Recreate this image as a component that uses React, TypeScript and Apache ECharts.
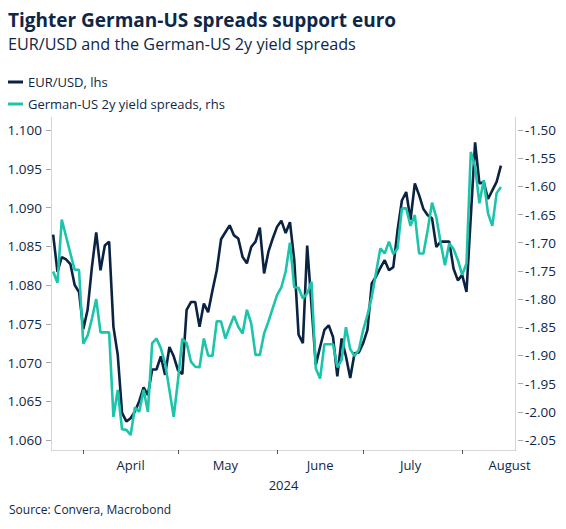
import React, { useEffect, useRef } from "react";
import * as echarts from "echarts";

// ---- data ----
const START_DATE = "2024-03-21";
const END_DATE = "2024-08-19"; // axis runs a few business days past the last observation

// EUR/USD, left axis (business days from 2024-03-21)
const eurUsd = [
  1.0865, 1.0817, 1.0836, 1.0833, 1.0827, 1.0800, 1.0791, 1.0743, 1.0768, 1.0823,
  1.0868, 1.0819, 1.0851, 1.0856, 1.0746, 1.0710, 1.0635, 1.0624, 1.0628, 1.0637,
  1.0650, 1.0668, 1.0658, 1.0691, 1.0691, 1.0708, 1.0684, 1.0720, 1.0708, 1.0690,
  1.0685, 1.0768, 1.0778, 1.0778, 1.0746, 1.0776, 1.0765, 1.0793, 1.0819, 1.0859,
  1.0868, 1.0877, 1.0864, 1.0860, 1.0836, 1.0828, 1.0849, 1.0856, 1.0874, 1.0815,
  1.0843, 1.0860, 1.0875, 1.0883, 1.0867, 1.0881, 1.0832, 1.0736, 1.0725, 1.0851,
  1.0774, 1.0697, 1.0720, 1.0742, 1.0748, 1.0733, 1.0682, 1.0731, 1.0708, 1.0680,
  1.0712, 1.0713, 1.0725, 1.0742, 1.0802, 1.0811, 1.0822, 1.0832, 1.0819, 1.0823,
  1.0871, 1.0909, 1.0920, 1.0884, 1.0931, 1.0916, 1.0898, 1.0890, 1.0886, 1.0849,
  1.0856, 1.0856, 1.0856, 1.0821, 1.0806, 1.0813, 1.0791, 1.0888, 1.0984, 1.0931,
  1.0933, 1.0911, 1.0922, 1.0933, 1.0954,
];

// German-US 2y yield spread, right axis
const spread = [
  -1.751, -1.771, -1.659, -1.689, -1.719, -1.748, -1.748, -1.879, -1.865, -1.835,
  -1.800, -1.859, -1.859, -1.859, -2.009, -1.961, -2.031, -2.032, -2.041, -1.992,
  -2.000, -1.961, -2.000, -1.878, -1.870, -1.887, -1.914, -1.961, -2.009, -1.944,
  -1.870, -1.878, -1.911, -1.920, -1.921, -1.870, -1.900, -1.901, -1.839, -1.840,
  -1.870, -1.849, -1.830, -1.849, -1.861, -1.819, -1.843, -1.899, -1.899, -1.861,
  -1.840, -1.816, -1.793, -1.779, -1.751, -1.700, -1.779, -1.780, -1.799, -1.790,
  -1.769, -1.923, -1.941, -1.880, -1.880, -1.880, -1.921, -1.908, -1.850, -1.889,
  -1.901, -1.890, -1.855, -1.828, -1.796, -1.753, -1.710, -1.719, -1.698, -1.720,
  -1.710, -1.639, -1.639, -1.670, -1.651, -1.719, -1.719, -1.677, -1.629, -1.655,
  -1.700, -1.740, -1.701, -1.711, -1.731, -1.757, -1.737, -1.539, -1.565, -1.630,
  -1.589, -1.648, -1.670, -1.612, -1.601,
];

const monthLabelDates: Record<string, string> = {
  "2024-04-16": "April",
  "2024-05-16": "May",
  "2024-06-17": "June",
  "2024-07-16": "July",
  "2024-08-16": "August",
};
const leftAxis = { min: 1.06, max: 1.1, interval: 0.005 };
const rightAxis = { min: -2.05, max: -1.5, interval: 0.05 };
const seriesNames = ["EUR/USD, lhs", "German-US 2y yield spreads, rhs"];
const yearLabel = "2024";
const titleText = "Tighter German-US spreads support euro";
const subtitleText = "EUR/USD and the German-US 2y yield spreads";
const sourceText = "Source: Convera, Macrobond";

// ---- styling ----
const NAVY = "#0b2343";
const TEAL = "#1cc4aa";
const TEXT = "#0f2746";
const FRAME = "#d6d6d6";
const TICK = "#a8a8a8";
const FONT = "'Open Sans', 'Noto Sans', sans-serif";

function businessDays(start: string, end: string): string[] {
  const out: string[] = [];
  const d = new Date(start + "T00:00:00Z");
  const e = new Date(end + "T00:00:00Z");
  while (d <= e) {
    const wd = d.getUTCDay();
    if (wd !== 0 && wd !== 6) out.push(d.toISOString().slice(0, 10));
    d.setUTCDate(d.getUTCDate() + 1);
  }
  return out;
}

const W = 566;
const H = 529;
const GRID = { left: 51, right: 50, top: 130, height: 310 };
const FRAME_TOP = 117;
const AXIS_Y = 450;

export default function App() {
  const ref = useRef<HTMLDivElement>(null);

  useEffect(() => {
    if (!ref.current) return;
    const chart = echarts.init(ref.current, undefined, { renderer: "svg" });
    const cats = businessDays(START_DATE, END_DATE);
    const plotRight = W - GRID.right;

    chart.setOption({
      animation: false,
      textStyle: { fontFamily: FONT },
      legend: {
        orient: "vertical",
        left: 3,
        top: 69,
        itemWidth: 15,
        itemHeight: 3,
        itemGap: 6,
        icon: "rect",
        textStyle: { color: TEXT, fontSize: 13, fontFamily: FONT, lineHeight: 16 },
        data: seriesNames,
      },
      grid: { left: GRID.left, right: GRID.right, top: GRID.top, height: GRID.height },
      xAxis: {
        type: "category",
        data: cats,
        boundaryGap: true,
        offset: AXIS_Y - (GRID.top + GRID.height),
        axisLine: { show: true, lineStyle: { color: FRAME, width: 1 } },
        axisTick: {
          show: true,
          alignWithLabel: true,
          length: 4,
          lineStyle: { color: "#555" },
          interval: (idx: number) => idx > 0 && cats[idx].slice(5, 7) !== cats[idx - 1].slice(5, 7),
        },
        axisLabel: {
          interval: (_idx: number, val: string) => monthLabelDates[val] !== undefined,
          formatter: (val: string) => monthLabelDates[val] ?? "",
          color: TEXT,
          fontSize: 13,
          fontFamily: FONT,
          margin: 8,
        },
        splitLine: { show: false },
      },
      yAxis: [
        {
          type: "value",
          position: "left",
          min: leftAxis.min,
          max: leftAxis.max,
          interval: leftAxis.interval,
          axisLine: { show: false },
          axisTick: { show: true, length: 5, lineStyle: { color: TICK } },
          axisLabel: {
            color: TEXT,
            fontSize: 13.5,
            fontFamily: FONT,
            margin: 9,
            formatter: (v: number) => v.toFixed(3),
          },
          splitLine: { show: false },
        },
        {
          type: "value",
          position: "right",
          offset: 2,
          min: rightAxis.min,
          max: rightAxis.max,
          interval: rightAxis.interval,
          axisLine: { show: false },
          axisTick: { show: true, length: 5, lineStyle: { color: TICK } },
          axisLabel: {
            color: TEXT,
            fontSize: 13.5,
            fontFamily: FONT,
            margin: 7,
            formatter: (v: number) => v.toFixed(2),
          },
          splitLine: { show: false },
        },
      ],
      series: [
        {
          name: seriesNames[0],
          type: "line",
          yAxisIndex: 0,
          data: eurUsd,
          showSymbol: false,
          symbol: "none",
          color: NAVY,
          lineStyle: { color: NAVY, width: 2.6 },
        },
        {
          name: seriesNames[1],
          type: "line",
          yAxisIndex: 1,
          data: spread,
          showSymbol: false,
          symbol: "none",
          color: TEAL,
          lineStyle: { color: TEAL, width: 2.6 },
        },
      ],
      graphic: [
        {
          type: "line",
          shape: { x1: GRID.left + 0.5, y1: FRAME_TOP, x2: GRID.left + 0.5, y2: AXIS_Y },
          style: { stroke: FRAME, lineWidth: 1 },
          silent: true,
        },
        {
          type: "line",
          shape: { x1: plotRight - 0.5, y1: FRAME_TOP, x2: plotRight - 0.5, y2: AXIS_Y },
          style: { stroke: FRAME, lineWidth: 1 },
          silent: true,
        },
        {
          type: "text",
          x: 8,
          y: 10,
          style: {
            text: titleText,
            fill: TEXT,
            font: `bold 19px ${FONT}`,
            textVerticalAlign: "top",
            verticalAlign: "top",
          },
        },
        {
          type: "text",
          x: 8,
          y: 36,
          style: {
            text: subtitleText,
            fill: TEXT,
            font: `16.2px ${FONT}`,
            textVerticalAlign: "top",
            verticalAlign: "top",
          },
        },
        {
          type: "text",
          x: (GRID.left + plotRight) / 2,
          y: 478,
          style: {
            text: yearLabel,
            fill: TEXT,
            font: `13px ${FONT}`,
            textAlign: "center",
            align: "center",
            textVerticalAlign: "top",
            verticalAlign: "top",
          },
        },
        {
          type: "text",
          x: 9,
          y: 503,
          style: {
            text: sourceText,
            fill: TEXT,
            font: `12px ${FONT}`,
            textVerticalAlign: "top",
            verticalAlign: "top",
          },
        },
      ],
    });
    return () => chart.dispose();
  }, []);

  return (
    <div
      ref={ref}
      style={{ position: "absolute", left: 0, top: 0, width: W, height: H, background: "#fff" }}
    />
  );
}
